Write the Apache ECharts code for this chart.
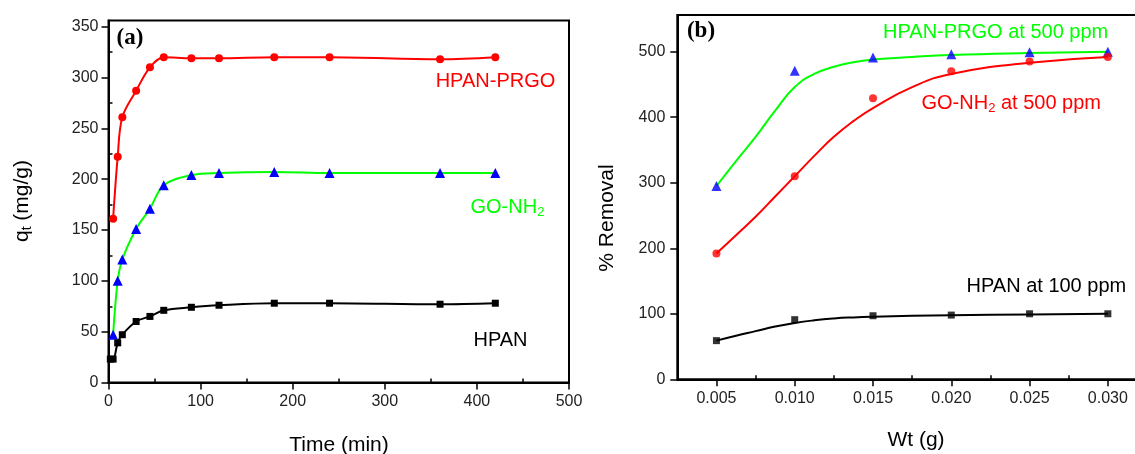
<!DOCTYPE html>
<html><head><meta charset="utf-8">
<script src="https://cdn.jsdelivr.net/npm/echarts@6/dist/echarts.min.js"></script>
<style>html,body{margin:0;padding:0;background:#fff}#c{width:1135px;height:454px}</style>
</head><body><div id="c"></div>
<script>
// ---------- Panel (a): adsorption vs time ----------
const timeA = [5, 10, 15, 30, 45, 60, 90, 120, 180, 240, 360, 420];
const hpanPrgoA = [161, 222, 261, 287, 310, 320, 319, 319, 320, 320, 318, 320];
const goNh2A = [47, 100, 121, 151, 171, 194, 204, 206, 207, 206, 206, 206];
const timeHpanA = [2, 5, 10, 15, 30, 45, 60, 90, 120, 180, 240, 360, 420];
const hpanA = [23, 23, 39, 47, 60, 65, 71, 74, 76, 78, 78, 77, 78];
const xTicksA = [0, 100, 200, 300, 400, 500];
const xMinorA = [50, 150, 250, 350, 450];
const yTicksA = [0, 50, 100, 150, 200, 250, 300, 350];
const yMinorA = [25, 75, 125, 175, 225, 275, 325];

// ---------- Panel (b): % removal vs weight ----------
const wtB = [0.005, 0.010, 0.015, 0.020, 0.025, 0.030];
const hpanPrgoB = [295, 471, 491, 496, 499, 500];
const goNh2B = [192, 310, 429, 470, 485, 492];
const hpanB = [59, 91, 97, 98, 100, 100];
// fitted curves
const fitWtB = [0.005, 0.00625, 0.0075, 0.00875, 0.010, 0.01125, 0.0125, 0.01375, 0.015, 0.0175, 0.020, 0.025, 0.030];
const fitPrgoB = [295, 333, 370, 410, 446, 466, 477, 484, 488, 492, 495, 498, 500];
const fitGoB = [192, 220, 248, 279, 310, 341, 370, 394, 414, 446, 466, 483, 492];
const fitHpanB = [59, 66.5, 73.5, 80.5, 86, 90, 92.8, 94.5, 95.6, 97, 97.8, 99, 100];
const xTicksB = [0.005, 0.010, 0.015, 0.020, 0.025, 0.030];
const xMinorB = [0.0075, 0.0125, 0.0175, 0.0225, 0.0275];
const yTicksB = [0, 100, 200, 300, 400, 500];
const yMinorB = [50, 150, 250, 350, 450, 550];

const FONT = '"Liberation Sans", Arial, sans-serif';
const pairs = (xs, ys) => xs.map((x, i) => [x, ys[i]]);

function axisPair(gridIndex, min, max, major, minor, fmt, margin) {
  return [
    {
      type: 'value', gridIndex, min, max,
      axisLine: { show: true, onZero: false, lineStyle: { color: '#000', width: 2 } },
      axisTick: { show: true, inside: false, length: 7, customValues: major, lineStyle: { color: '#000', width: 1.5 } },
      axisLabel: { show: true, customValues: major, formatter: fmt, color: '#222', fontSize: 16, fontFamily: FONT, margin: margin },
      splitLine: { show: false }
    },
    {
      type: 'value', gridIndex, min, max,
      axisLine: { show: false },
      axisTick: { show: true, inside: false, length: 4, customValues: minor, lineStyle: { color: '#000', width: 1.5 } },
      axisLabel: { show: false },
      splitLine: { show: false }
    }
  ];
}

const fmtInt = v => String(Math.round(v));
const fmt3 = v => v.toFixed(3);

const xAxes = [
  ...axisPair(0, 0, 500, xTicksA, xMinorA, fmtInt, 11),
  ...axisPair(1, 0.0025, 0.0325, xTicksB, xMinorB, fmt3, 11)
];
const yAxes = [
  ...axisPair(0, 0, 356, yTicksA, yMinorA, fmtInt, 10),
  ...axisPair(1, 0, 556, yTicksB, yMinorB, fmtInt, 12)
];

function lineSeries(xi, yi, data, lineColor, markColor, symbol, size, smooth) {
  return {
    type: 'line', xAxisIndex: xi, yAxisIndex: yi, data,
    symbol, symbolSize: size, showSymbol: true,
    smooth: smooth,
    lineStyle: { color: lineColor, width: 2 },
    itemStyle: { color: markColor },
    emphasis: { disabled: true }
  };
}
function scatterSeries(xi, yi, data, color, symbol, size) {
  return { type: 'scatter', xAxisIndex: xi, yAxisIndex: yi, data, symbol, symbolSize: size,
    itemStyle: { color }, z: 5, emphasis: { disabled: true } };
}
function fitSeries(xi, yi, data, color) {
  return { type: 'line', xAxisIndex: xi, yAxisIndex: yi, data, showSymbol: false, symbol: 'none',
    smooth: 0.5, lineStyle: { color, width: 2 }, emphasis: { disabled: true } };
}

const series = [
  lineSeries(0, 0, pairs(timeA, hpanPrgoA), '#ff0000', '#ff0000', 'circle', 8, 0.35),
  lineSeries(0, 0, pairs(timeA, goNh2A), '#00ff00', '#0000ff', 'triangle', 10, 0.35),
  lineSeries(0, 0, pairs(timeHpanA, hpanA), '#000000', '#000000', 'rect', 7, 0.35),
  fitSeries(2, 2, pairs(fitWtB, fitPrgoB), '#00ff00'),
  fitSeries(2, 2, pairs(fitWtB, fitGoB), '#ff0000'),
  fitSeries(2, 2, pairs(fitWtB, fitHpanB), '#000000'),
  scatterSeries(2, 2, pairs(wtB, hpanPrgoB), '#0000ff', 'triangle', 10),
  scatterSeries(2, 2, pairs(wtB, goNh2B), '#ff0000', 'circle', 8),
  scatterSeries(2, 2, pairs(wtB, hpanB), '#000000', 'rect', 7)
];

function txt(x, y, text, size, color, align, extra) {
  return Object.assign({
    type: 'text', x, y, z: 100,
    style: { text, font: size + 'px ' + FONT, fill: color, align: align || 'center', verticalAlign: 'middle',
      textAlign: align || 'center', textVerticalAlign: 'middle' }
  }, extra || {});
}
function richTxt(x, y, text, size, subSize, color, align, rotation) {
  return {
    type: 'text', x, y, z: 100, rotation: rotation || 0,
    style: {
      text, align: align || 'left', verticalAlign: 'middle', textAlign: align || 'left', textVerticalAlign: 'middle',
      rich: {
        m: { fontSize: size, fontFamily: FONT, fill: color },
        s: { fontSize: subSize, fontFamily: FONT, fill: color, padding: [Math.round(size * 0.5), 0, 0, 0] }
      }
    }
  };
}

const graphics = [
  { type: 'text', x: 130, y: 38, z: 100, style: { text: '(a)', font: 'bold 23px "Liberation Serif", "Times New Roman", serif', fill: '#000', align: 'center', verticalAlign: 'middle' } },
  { type: 'text', x: 701, y: 31, z: 100, style: { text: '(b)', font: 'bold 23px "Liberation Serif", "Times New Roman", serif', fill: '#000', align: 'center', verticalAlign: 'middle' } },
  txt(495.5, 81.5, 'HPAN-PRGO', 20, '#ff0000'),
  richTxt(470.5, 207.5, '{m|GO-NH}{s|2}', 20, 13, '#00ff00', 'left'),
  txt(500.5, 340.5, 'HPAN', 20, '#000000'),
  txt(883, 32.5, 'HPAN-PRGO at 500 ppm', 20, '#00ff00', 'left'),
  richTxt(921.5, 103, '{m|GO-NH}{s|2}{m| at 500 ppm}', 20, 13, '#ff0000', 'left'),
  txt(966.5, 286.5, 'HPAN at 100 ppm', 20, '#000000', 'left'),
  txt(339, 445, 'Time (min)', 21, '#000000'),
  txt(916, 440, 'Wt (g)', 21, '#000000'),
  txt(607, 218, '% Removal', 21, '#000000', 'center', { rotation: Math.PI / 2 }),
  richTxt(22, 201, '{m|q}{s|t}{m| (mg/g)}', 21, 14, '#000000', 'center', Math.PI / 2)
];

const chart = echarts.init(document.getElementById('c'), null, { renderer: 'canvas' });
chart.setOption({
  animation: false,
  backgroundColor: '#ffffff',
  grid: [
    { left: 108.5, top: 20.6, width: 460.5, height: 361.9, show: true, borderColor: '#000', borderWidth: 2, backgroundColor: 'transparent', containLabel: false, outerBoundsMode: 'none' },
    { left: 677.3, top: 15, width: 469.7, height: 364.3, show: true, borderColor: '#000', borderWidth: 2, backgroundColor: 'transparent', containLabel: false, outerBoundsMode: 'none' }
  ],
  xAxis: xAxes,
  yAxis: yAxes,
  series,
  graphic: graphics
});
</script></body></html>
